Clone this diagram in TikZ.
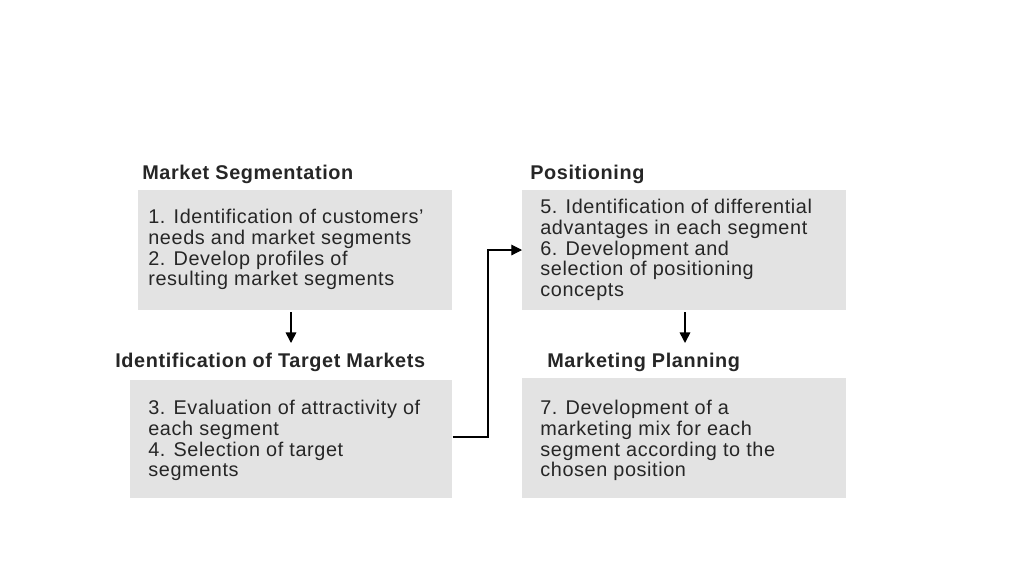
\documentclass[tikz,border=0pt]{standalone}
\usepackage{fontspec}
\setmainfont{Liberation Sans}[LetterSpace=3]
\usetikzlibrary{arrows.meta}
\begin{document}
\begin{tikzpicture}[x=0.02cm,y=-0.02cm,
  box/.style={fill=black!11,draw=none,anchor=north west,inner sep=0pt},
  txt/.style={anchor=north west,align=left,font=\fontsize{11.3}{11.8}\selectfont,text=black!85,inner sep=0pt},
  ttl/.style={anchor=west,font=\bfseries\fontsize{11.3}{12}\selectfont,text=black!85,inner sep=0pt},
  arr/.style={-{Triangle[length=6pt,width=6pt]},line width=0.9pt}]
\useasboundingbox[fill=white] (0,0) rectangle (1024,576);
\node[box,minimum width=314*0.02cm,minimum height=120*0.02cm] (b1) at (138,190) {};
\node[box,minimum width=322*0.02cm,minimum height=118*0.02cm] (b2) at (130,380) {};
\node[box,minimum width=324*0.02cm,minimum height=120*0.02cm] (b3) at (522,190) {};
\node[box,minimum width=324*0.02cm,minimum height=120*0.02cm] (b4) at (522,378) {};
\node[ttl] (t1) at (142,174) {Market Segmentation};
\node[ttl] (t2) at (115,362) {Identification of Target Markets};
\node[ttl] (t3) at (530,174) {Positioning};
\node[ttl] (t4) at (547,362) {Marketing Planning};
\node[txt] (x1) at (148,209) {1. Identification of customers'\\needs and market segments\\2. Develop profiles of\\resulting market segments};
\node[txt] (x2) at (148,400) {3. Evaluation of attractivity of\\each segment\\4. Selection of target\\segments};
\node[txt] (x3) at (540,199) {5. Identification of differential\\advantages in each segment\\6. Development and\\selection of positioning\\concepts};
\node[txt] (x4) at (540,400) {7. Development of a\\marketing mix for each\\segment according to the\\chosen position};
\draw[arr] (291,312) -- (291,343);
\draw[arr] (685,312) -- (685,343);
\draw[arr,line width=0.6pt] (b2.east |- 0,437) -- (488,437) |- (b3.west |- 0,250);
\end{tikzpicture}
\end{document}
